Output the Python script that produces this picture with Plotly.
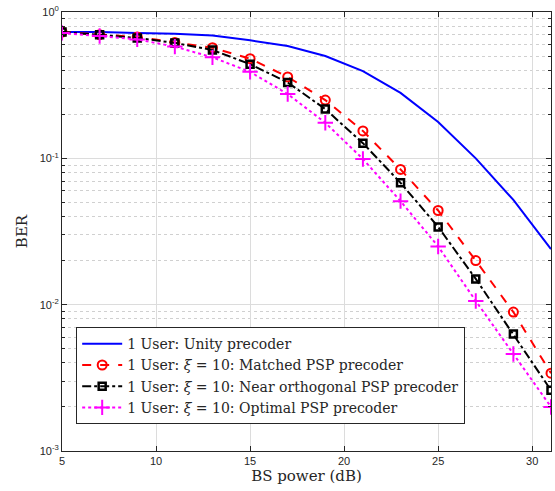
import plotly.graph_objects as go

x_db = [5, 7, 9, 11, 13, 15, 17, 19, 21, 23, 25, 27, 29, 31]
ber_unity = [0.73, 0.73, 0.72, 0.71, 0.69, 0.64, 0.585, 0.50, 0.395, 0.28, 0.177, 0.10, 0.052, 0.024]
ber_matched = [0.73, 0.70, 0.675, 0.62, 0.57, 0.48, 0.36, 0.25, 0.154, 0.084, 0.044, 0.020, 0.0089, 0.0034]
ber_nearorth = [0.73, 0.70, 0.665, 0.615, 0.55, 0.44, 0.33, 0.217, 0.127, 0.068, 0.034, 0.015, 0.0063, 0.0026]
ber_optimal = [0.72, 0.685, 0.65, 0.58, 0.49, 0.39, 0.275, 0.175, 0.099, 0.051, 0.025, 0.0106, 0.0046, 0.0020]

names = [
    "1 User: Unity precoder",
    "1 User: <i>ξ</i> = 10: Matched PSP precoder",
    "1 User: <i>ξ</i> = 10: Near orthogonal PSP precoder",
    "1 User: <i>ξ</i> = 10: Optimal PSP precoder",
]

fig = go.Figure()
fig.add_trace(go.Scatter(x=x_db, y=ber_unity, name=names[0], mode="lines",
                         line=dict(color="#0000ff", width=2)))
fig.add_trace(go.Scatter(x=x_db, y=ber_matched, name=names[1], mode="lines+markers",
                         line=dict(color="#ff0000", width=2, dash="dash"),
                         marker=dict(symbol="circle-open", size=9, color="#ff0000", line=dict(width=2))))
fig.add_trace(go.Scatter(x=x_db, y=ber_nearorth, name=names[2], mode="lines+markers",
                         line=dict(color="#000000", width=2, dash="dashdot"),
                         marker=dict(symbol="square-open", size=7, color="#000000", line=dict(width=2.5))))
fig.add_trace(go.Scatter(x=x_db, y=ber_optimal, name=names[3], mode="lines+markers",
                         line=dict(color="#ff00ff", width=2, dash="dot"),
                         marker=dict(symbol="cross-thin-open", size=11, color="#ff00ff", line=dict(width=2, color="#ff00ff"))))

axis_common = dict(showline=True, linecolor="#262626", linewidth=1, mirror="ticks",
                   ticks="inside", ticklen=5, tickcolor="#262626",
                   showgrid=True, gridcolor="#dcdcdc", gridwidth=1, zeroline=False,
                   tickfont=dict(family="Liberation Sans, Arial", size=11, color="#262626"))

fig.update_xaxes(range=[5, 31], tickvals=[5, 10, 15, 20, 25, 30],
                 title=dict(text="BS power (dB)", font=dict(family="DejaVu Serif, serif", size=15, color="#262626"), standoff=4),
                 **axis_common)
fig.update_yaxes(type="log", range=[-3, 0], tickvals=[1e-3, 1e-2, 1e-1, 1],
                 ticktext=["10<sup>-3</sup>", "10<sup>-2</sup>", "10<sup>-1</sup>", "10<sup>0</sup>"],
                 minor=dict(dtick="D1", showgrid=True, griddash="dot", gridcolor="#d0d0d0",
                            ticks="inside", ticklen=3, tickcolor="#262626"),
                 title=dict(text="BER", font=dict(family="DejaVu Serif, serif", size=15, color="#262626"), standoff=8),
                 **axis_common)

fig.update_layout(
    width=555, height=491,
    margin=dict(l=62, r=4, t=12, b=40),
    paper_bgcolor="white", plot_bgcolor="white",
    legend=dict(x=0.029, y=0.282, xanchor="left", yanchor="top",
                bgcolor="white", bordercolor="#262626", borderwidth=1,
                font=dict(family="DejaVu Serif, serif", size=14, color="#262626"),
                itemwidth=40, tracegroupgap=0),
)

fig.write_html("out.html")
